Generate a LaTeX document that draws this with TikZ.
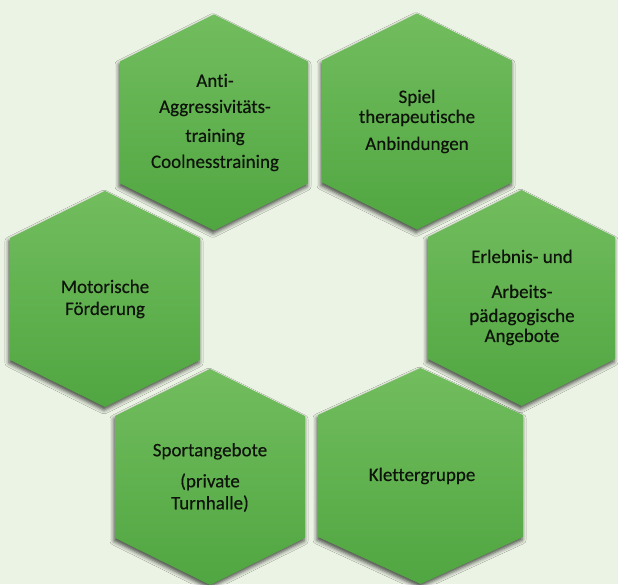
\documentclass[tikz,border=0pt]{standalone}
\usepackage{fontspec}
\newfontfamily\hexfont{Carlito}[Ligatures={NoCommon},UprightFeatures={FakeBold=0.4}]
\usetikzlibrary{shadows.blur}
\definecolor{bgcol}{HTML}{EBF3E4}
\definecolor{hextop}{HTML}{72BD5E}
\definecolor{hexbot}{HTML}{50A641}
\definecolor{txtcol}{HTML}{0E140B}
\tikzset{
  hexcell/.style={top color=hextop, bottom color=hexbot, draw=none,
    blur shadow={shadow xshift=-1pt, shadow yshift=-3pt, shadow blur radius=4pt, shadow opacity=70}},
  hexlabel/.style={align=center, text=txtcol, inner sep=0pt,
    font=\hexfont\fontsize{19}{21}\selectfont}
}
% #1 center x, #2 center y (image coords), #3 half width
\newcommand{\hexcellpath}[3]{%
  \path[hexcell] (#1,{584-#2+108}) -- ({#1+#3},{584-#2+61}) -- ({#1+#3},{584-#2-61})
     -- (#1,{584-#2-108}) -- ({#1-#3},{584-#2-61}) -- ({#1-#3},{584-#2+61}) -- cycle;}
\begin{document}
\begin{tikzpicture}[x=1pt,y=1pt]
\fill[bgcol] (0,0) rectangle (618,584);
\useasboundingbox (0,0) rectangle (618,584);
\hexcellpath{214}{122.5}{94}
\hexcellpath{417}{121.5}{95}
\hexcellpath{105}{299}{95}
\hexcellpath{521.5}{298}{93.5}
\hexcellpath{210}{477}{95}
\hexcellpath{420.5}{476}{102.5}
\node[hexlabel] (anti) at (215,{584-122.5}) {Anti-\\[5pt]Aggressivitäts-\\[8pt]training\\[5pt]Coolnesstraining};
\node[hexlabel] (spiel) at (417,{584-121.5}) {Spiel\\[-1pt]therapeutische\\[6pt]Anbindungen};
\node[hexlabel] (motor) at (105,{584-299}) {Motorische\\[1pt]Förderung};
\node[hexlabel] (erleb) at (522,{584-297.5}) {Erlebnis- und\\[14pt]Arbeits-\\[3pt]pädagogische\\[-1pt]Angebote};
\node[hexlabel] (sport) at (210,{584-477.5}) {Sportangebote\\[10pt](private\\[1pt]Turnhalle)};
\node[hexlabel] (klett) at (422,{584-476}) {Klettergruppe};
\end{tikzpicture}
\end{document}
